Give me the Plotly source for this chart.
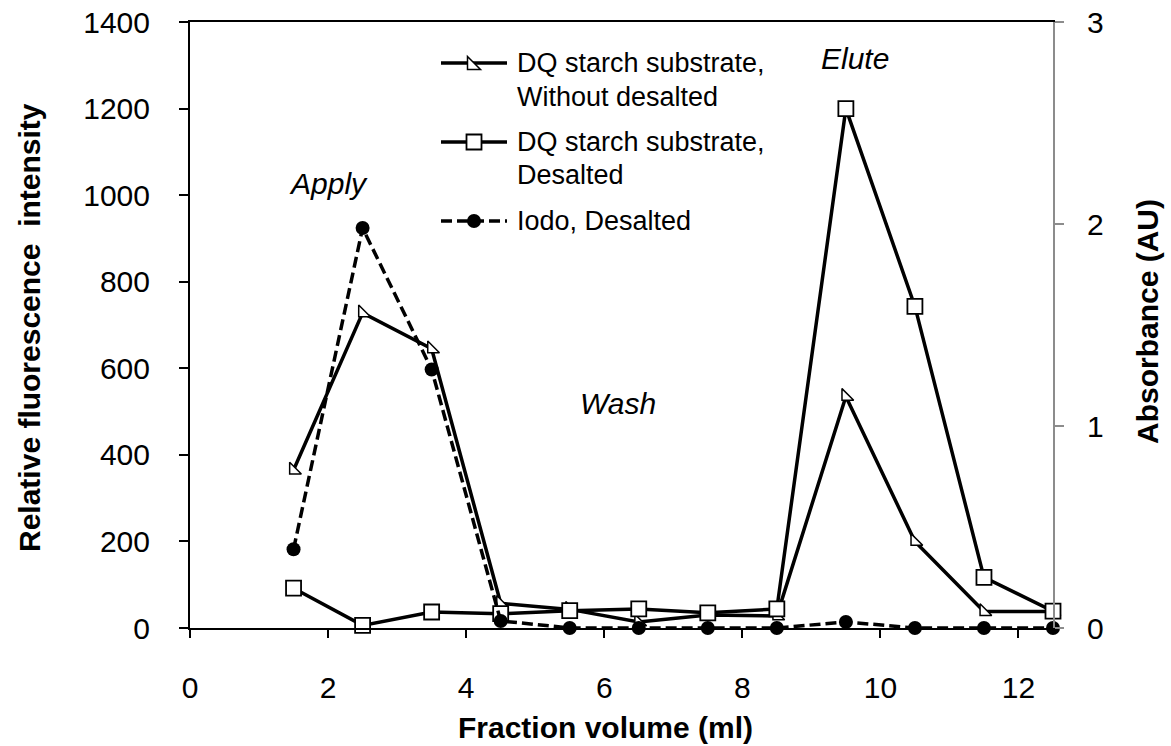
import plotly.graph_objects as go

# Fraction data
fraction_ml = [1.5, 2.5, 3.5, 4.5, 5.5, 6.5, 7.5, 8.5, 9.5, 10.5, 11.5, 12.5]
dq_without_desalted = [365, 728, 645, 57, 43, 14, 30, 28, 535, 200, 38, 38]
dq_desalted = [92, 6, 37, 33, 40, 44, 35, 44, 1200, 743, 117, 39]
iodo_desalted = [0.39, 1.98, 1.28, 0.035, 0.0, 0.0, 0.0, 0.0, 0.03, 0.0, 0.0, 0.0]

x_ticks = [0, 2, 4, 6, 8, 10, 12]
y_left_ticks = [0, 200, 400, 600, 800, 1000, 1200, 1400]
y_right_ticks = [0, 1, 2, 3]

W, H = 1171, 746
PX0, PX1, PY0, PY1 = 190, 1053, 22, 628   # plot area in pixels
FONT = "Liberation Sans, Arial, sans-serif"
LW = 3.5


def px(v):
    return v / W


def py(v):
    return 1 - v / H


fig = go.Figure()

fig.add_trace(go.Scatter(
    x=fraction_ml, y=dq_without_desalted, mode="lines+markers",
    line=dict(color="black", width=LW),
    marker=dict(symbol="triangle-sw", size=13, color="white",
                line=dict(color="black", width=1.5)),
    cliponaxis=False, showlegend=False,
))
fig.add_trace(go.Scatter(
    x=fraction_ml, y=dq_desalted, mode="lines+markers",
    line=dict(color="black", width=LW),
    marker=dict(symbol="square", size=15, color="white",
                line=dict(color="black", width=1.8)),
    cliponaxis=False, showlegend=False,
))
fig.add_trace(go.Scatter(
    x=fraction_ml, y=iodo_desalted, mode="lines+markers", yaxis="y2",
    line=dict(color="black", width=LW, dash="11px,5px"),
    marker=dict(symbol="circle", size=14, color="black"),
    cliponaxis=False, showlegend=False,
))

xdom = [px(PX0), px(PX1)]
ydom = [py(PY1), py(PY0)]
tickfont = dict(family=FONT, size=30, color="black")

fig.update_layout(
    template="none",
    width=W, height=H,
    margin=dict(l=0, r=0, t=0, b=0, pad=0, autoexpand=False),
    paper_bgcolor="white", plot_bgcolor="white",
    showlegend=False,
    font=dict(family=FONT, color="black"),
    xaxis=dict(domain=xdom, range=[0, 12.5], tickvals=x_ticks,
               showline=True, linecolor="black", linewidth=2, mirror=True,
               ticks="outside", ticklen=8, tickwidth=2, tickcolor="black",
               tickfont=tickfont, ticklabelstandoff=24, automargin=False,
               showgrid=False, zeroline=False, anchor="y"),
    xaxis3=dict(domain=xdom, range=[0, 12.5], tickvals=x_ticks,
                overlaying="x", anchor="y", showline=False, automargin=False,
                ticks="inside", ticklen=8, tickwidth=2, tickcolor="black",
                showticklabels=False, showgrid=False, zeroline=False),
    yaxis=dict(domain=ydom, range=[0, 1400], tickvals=y_left_ticks,
               showline=True, linecolor="black", linewidth=2,
               ticks="outside", ticklen=9, tickwidth=2, tickcolor="black",
               tickfont=tickfont, ticklabelstandoff=23, automargin=False,
               showgrid=False, zeroline=False, anchor="x"),
    yaxis3=dict(domain=ydom, range=[0, 1400], tickvals=y_left_ticks,
                overlaying="y", anchor="x", showline=False, automargin=False,
                ticks="inside", ticklen=9, tickwidth=2, tickcolor="black",
                showticklabels=False, showgrid=False, zeroline=False),
    yaxis2=dict(domain=ydom, range=[0, 3], tickvals=y_right_ticks,
                overlaying="y", side="right", anchor="x", automargin=False,
                showline=True, linecolor="#8c8c8c", linewidth=2,
                ticks="outside", ticklen=9, tickwidth=2, tickcolor="#8c8c8c",
                tickfont=tickfont, ticklabelstandoff=17,
                showgrid=False, zeroline=False),
)

# Axis titles and region labels
ann = []
ann.append(dict(x=px(29), y=py(328), text="<b>Relative fluorescence  intensity</b>",
                textangle=-90, font=dict(size=30)))
ann.append(dict(x=px(1147), y=py(322), text="<b>Absorbance (AU)</b>",
                textangle=-90, font=dict(size=30)))
ann.append(dict(x=px(605), y=py(727), text="<b>Fraction volume (ml)</b>",
                font=dict(size=30)))
ann.append(dict(x=px(328), y=py(183), text="<i>Apply</i>", font=dict(size=30)))
ann.append(dict(x=px(618), y=py(403), text="<i>Wash</i>", font=dict(size=30)))
ann.append(dict(x=px(855), y=py(58), text="<i>Elute</i>", font=dict(size=30)))

# Legend text
legend_rows = [
    ("DQ starch substrate,", 63), ("Without desalted", 97),
    ("DQ starch substrate,", 142), ("Desalted", 175),
    ("Iodo, Desalted", 221),
]
for txt, yy in legend_rows:
    ann.append(dict(x=px(515), y=py(yy), text=txt, xanchor="left",
                    font=dict(size=27)))

for a in ann:
    a.update(xref="paper", yref="paper", showarrow=False,
             xanchor=a.get("xanchor", "center"), yanchor="middle")
    a["font"].update(family=FONT, color="black")
fig.update_layout(annotations=ann)

# Legend samples
shapes = []
LX0, LX1, LXM = 441, 507, 474
for yy, dash in [(63, "solid"), (142, "solid"), (221, "11px,5px")]:
    shapes.append(dict(type="line", xref="paper", yref="paper",
                       x0=px(LX0), x1=px(LX1), y0=py(yy), y1=py(yy),
                       line=dict(color="black", width=LW, dash=dash)))
r = 6.5
shapes.append(dict(type="path", xref="paper", yref="paper",
                   path=f"M{px(LXM + r)},{py(63 + r)} L{px(LXM - r)},{py(63 + r)} "
                        f"L{px(LXM - r)},{py(63 - r)} Z",
                   fillcolor="white", line=dict(color="black", width=1.5)))
shapes.append(dict(type="rect", xref="paper", yref="paper",
                   x0=px(LXM - 7.5), x1=px(LXM + 7.5), y0=py(142 + 7.5), y1=py(142 - 7.5),
                   fillcolor="white", line=dict(color="black", width=1.8)))
shapes.append(dict(type="circle", xref="paper", yref="paper",
                   x0=px(LXM - 7), x1=px(LXM + 7), y0=py(221 + 7), y1=py(221 - 7),
                   fillcolor="black", line=dict(color="black", width=0)))
fig.update_layout(shapes=shapes)

fig.write_html("out.html")
